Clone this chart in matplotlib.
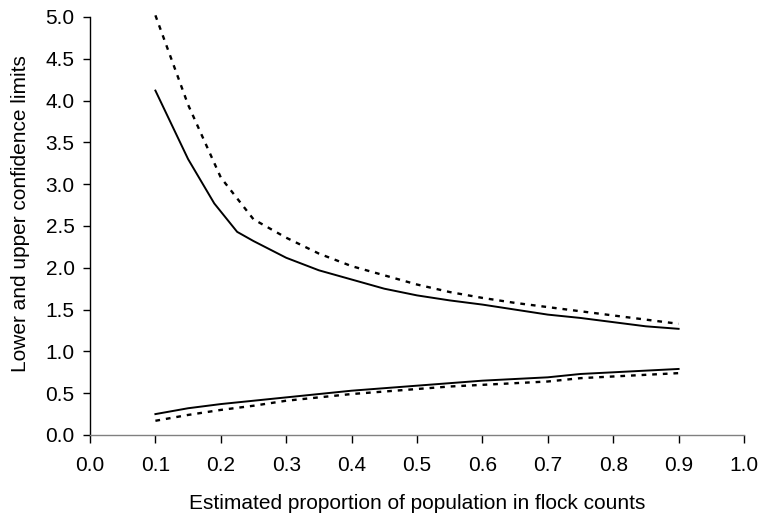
import numpy as np
import matplotlib
matplotlib.use('Agg')
import matplotlib.pyplot as plt

# proportion of population in flock counts
x = [0.10, 0.15, 0.20, 0.25, 0.30, 0.35, 0.40, 0.45, 0.50,
     0.55, 0.60, 0.65, 0.70, 0.75, 0.80, 0.85, 0.90]

# upper solid line has its own kinks near the start
x_upper_solid = [0.10, 0.15, 0.19, 0.225, 0.25, 0.30, 0.35, 0.40, 0.45,
                 0.50, 0.55, 0.60, 0.65, 0.70, 0.75, 0.80, 0.85, 0.90]
upper_solid = [4.12, 3.30, 2.77, 2.43, 2.32, 2.12, 1.97, 1.86, 1.75,
               1.67, 1.61, 1.56, 1.50, 1.44, 1.40, 1.35, 1.30, 1.27]

upper_dotted = [5.02, 3.95, 3.08, 2.58, 2.36, 2.17, 2.02, 1.91, 1.80,
                1.71, 1.64, 1.58, 1.53, 1.48, 1.43, 1.38, 1.33]

lower_solid = [0.25, 0.32, 0.37, 0.41, 0.45, 0.49, 0.53, 0.56, 0.59,
               0.62, 0.65, 0.67, 0.69, 0.73, 0.75, 0.77, 0.79]

lower_dotted = [0.17, 0.24, 0.30, 0.35, 0.41, 0.45, 0.49, 0.52, 0.55,
                0.58, 0.60, 0.62, 0.64, 0.68, 0.70, 0.72, 0.74]

xticks = np.round(np.arange(0, 1.01, 0.1), 1)
yticks = np.round(np.arange(0, 5.01, 0.5), 1)

plt.rcParams.update({
    "font.family": ["Liberation Sans", "DejaVu Sans"],
    "font.size": 15,
})

fig = plt.figure(figsize=(7.62, 5.19), dpi=100)
ax = fig.add_axes([90 / 762, 1 - 435 / 519, 654 / 762, 418 / 519])

ax.plot(x_upper_solid, upper_solid, color='black', lw=1.4)
ax.plot(x, lower_solid, color='black', lw=1.4)
ax.plot(x, upper_dotted, color='black', lw=1.7, linestyle=(0, (2, 2.5)), clip_on=False)
ax.plot(x, lower_dotted, color='black', lw=1.7, linestyle=(0, (2, 2.5)))

ax.set_xlim(0, 1.0)
ax.set_ylim(0, 5.0)
ax.set_xticks(xticks)
ax.set_yticks(yticks)
ax.set_xticklabels(['%.1f' % v for v in xticks])
ax.set_yticklabels(['%.1f' % v for v in yticks])

ax.spines['top'].set_visible(False)
ax.spines['right'].set_visible(False)
ax.spines['left'].set_color('black')
ax.spines['bottom'].set_color('#808080')
ax.spines['left'].set_linewidth(1.0)
ax.spines['bottom'].set_linewidth(1.0)
ax.tick_params(axis='y', direction='out', length=5, width=1, color='black', pad=6)
ax.tick_params(axis='x', direction='out', length=6, width=1, color='black', pad=9)

ax.set_xlabel('Estimated proportion of population in flock counts')
ax.set_ylabel('Lower and upper confidence limits')
ax.xaxis.set_label_coords(0.5, -0.141)
ax.yaxis.set_label_coords(-0.092, 0.529)

fig.savefig('out.png', dpi=100)
